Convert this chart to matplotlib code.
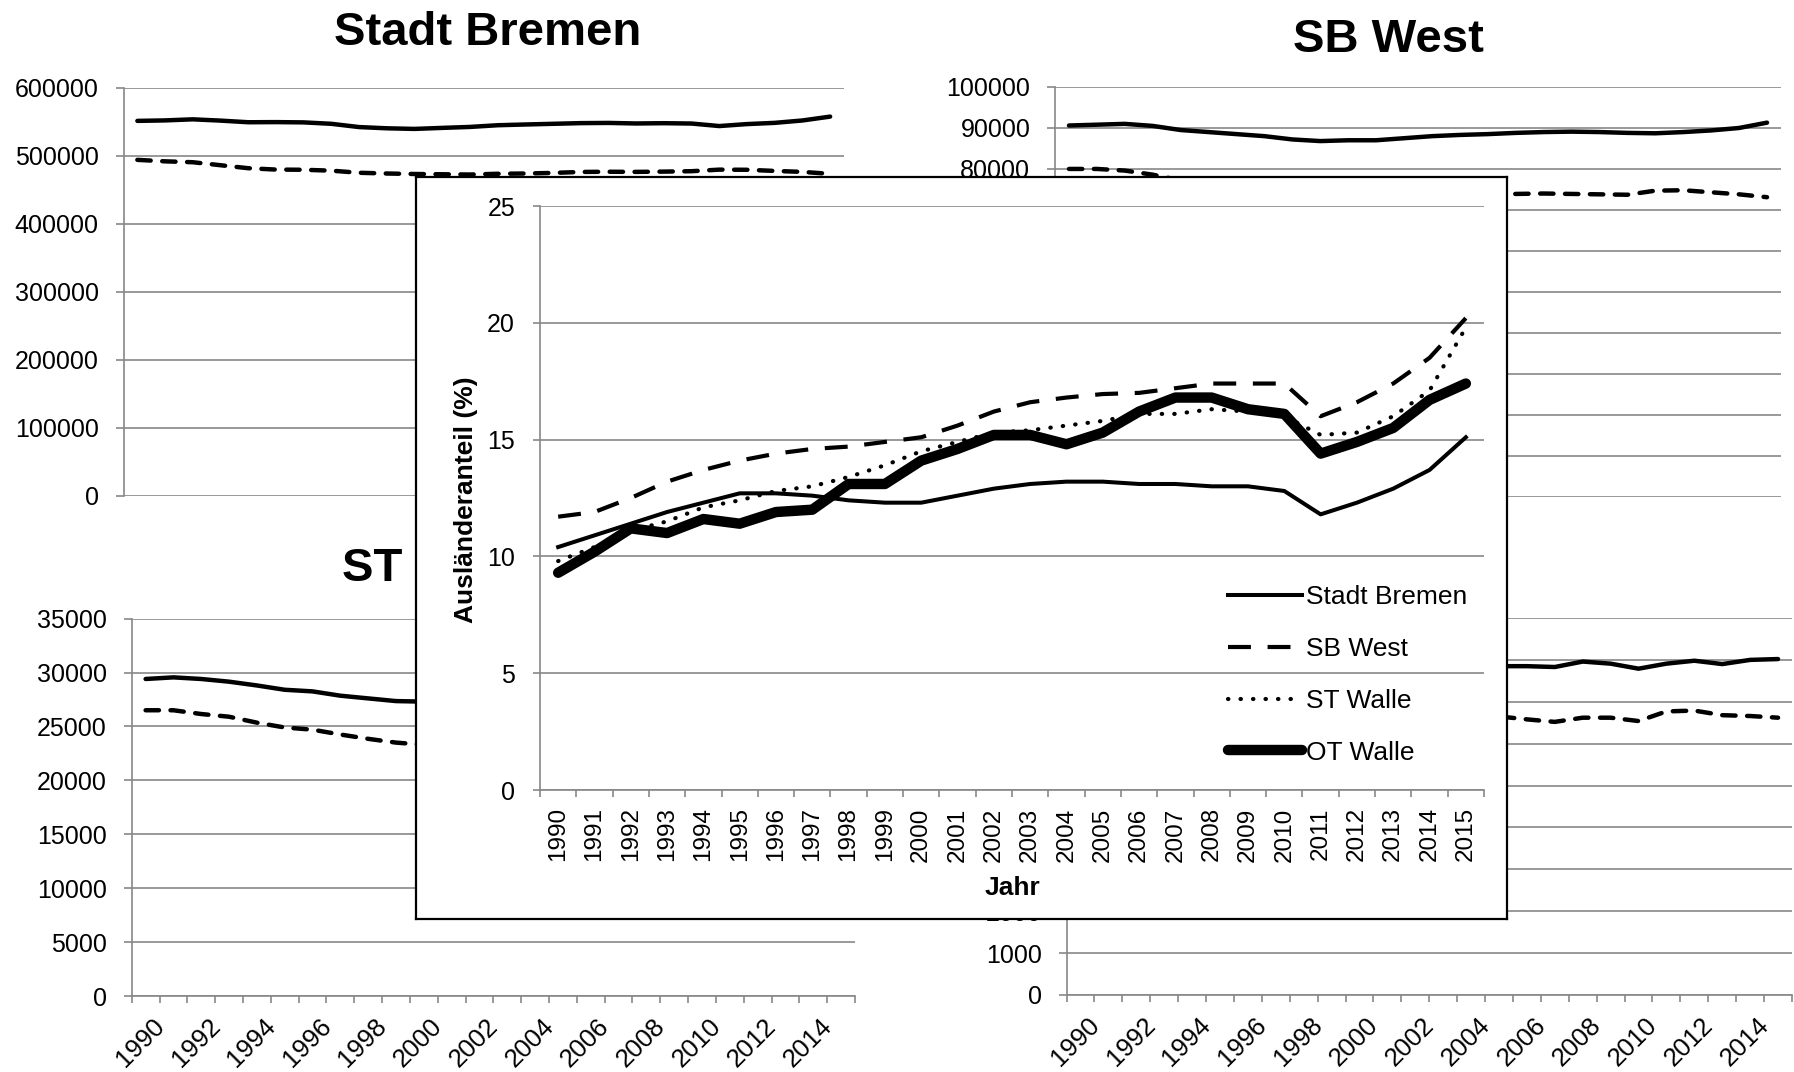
import numpy as np
import matplotlib
matplotlib.use("Agg")
import matplotlib.pyplot as plt
from matplotlib.transforms import ScaledTranslation

plt.rcParams['font.family'] = ['Liberation Sans', 'DejaVu Sans']

# ---------------- data ----------------
years = list(range(1990, 2016))

# Einwohner gesamt (solid) / Deutsche (dashed)
bremen_total = [551200, 551900, 553500, 551600, 549200, 549400, 549000, 546900, 542100, 540300,
                539400, 540900, 542300, 544800, 545900, 546900, 547900, 548200, 547400, 547800,
                547300, 543600, 546500, 548300, 551800, 557500]
bremen_german = [493900, 491700, 490400, 486000, 481600, 479600, 479300, 478000, 474900, 473800,
                 473100, 472700, 472300, 473400, 473800, 474700, 476100, 476400, 476200, 476600,
                 477200, 479500, 479300, 477600, 476200, 473300]

sbwest_total = [90600, 90800, 91000, 90500, 89500, 89000, 88500, 88000, 87200, 86800,
                87000, 87000, 87500, 88000, 88300, 88500, 88800, 89000, 89100, 89000,
                88800, 88700, 89000, 89400, 90000, 91300]
sbwest_german = [80000, 80000, 79600, 78600, 77200, 76500, 75800, 75200, 74400, 73900,
                 73900, 73400, 73300, 73400, 73500, 73700, 73900, 74000, 73900, 73800,
                 73700, 74700, 74800, 74300, 73800, 73100]

stwalle_total = [29400, 29550, 29400, 29150, 28800, 28400, 28250, 27850, 27600, 27350,
                 27300, 27250, 27150, 27050, 27000, 27050, 27100, 27150, 27200, 27300,
                 27300, 27200, 27400, 27650, 28050, 28650]
stwalle_german = [26500, 26500, 26150, 25900, 25350, 24900, 24700, 24250, 23850, 23500,
                  23300, 23150, 22950, 22850, 22800, 22750, 22750, 22750, 22750, 22850,
                  22900, 23050, 23200, 23200, 23250, 23000]

otwalle_total = [8300, 8350, 8300, 8250, 8150, 8050, 8000, 7950, 7900, 7850,
                 7850, 7850, 7850, 7850, 7830, 7850, 7850, 7830, 7960, 7910,
                 7790, 7910, 7980, 7900, 8000, 8020]
otwalle_german = [7530, 7500, 7370, 7340, 7200, 7130, 7050, 7000, 6870, 6820,
                  6740, 6700, 6660, 6660, 6670, 6650, 6580, 6520, 6620, 6620,
                  6540, 6770, 6790, 6680, 6660, 6620]

# Ausländeranteil (%)
share_labels = ['Stadt Bremen', 'SB West', 'ST Walle', 'OT Walle']
share_bremen = [10.4, 10.9, 11.4, 11.9, 12.3, 12.7, 12.7, 12.6, 12.4, 12.3,
                12.3, 12.6, 12.9, 13.1, 13.2, 13.2, 13.1, 13.1, 13.0, 13.0,
                12.8, 11.8, 12.3, 12.9, 13.7, 15.1]
share_sbwest = [11.7, 11.9, 12.5, 13.2, 13.7, 14.1, 14.4, 14.6, 14.7, 14.9,
                15.1, 15.6, 16.2, 16.6, 16.8, 16.95, 17.0, 17.2, 17.4, 17.4,
                17.4, 16.0, 16.6, 17.4, 18.5, 20.2]
share_stwalle = [9.8, 10.4, 11.1, 11.5, 12.1, 12.4, 12.8, 13.0, 13.4, 13.9,
                 14.5, 14.9, 15.3, 15.4, 15.6, 15.8, 16.1, 16.1, 16.3, 16.2,
                 16.0, 15.2, 15.3, 16.0, 17.1, 19.8]
share_otwalle = [9.3, 10.2, 11.2, 11.0, 11.6, 11.4, 11.9, 12.0, 13.1, 13.1,
                 14.1, 14.6, 15.2, 15.2, 14.8, 15.3, 16.2, 16.8, 16.8, 16.3,
                 16.1, 14.4, 14.9, 15.5, 16.7, 17.4]

# ---------------- layout helpers ----------------
W, H = 1794, 1072
fig = plt.figure(figsize=(W / 100, H / 100), dpi=100)
GRID = '#878787'


def box(l, t, r, b):
    return [l / W, 1 - b / H, (r - l) / W, (b - t) / H]


xc = np.arange(len(years)) + 0.5
shift_right = ScaledTranslation(15 / 100, 0, fig.dpi_scale_trans)


def panel(rect, total, german, ymax, ystep, show_x):
    ax = fig.add_axes(box(*rect), zorder=1)
    ax.plot(xc, total, color='black', lw=3.2, solid_capstyle='round', solid_joinstyle='round')
    ax.plot(xc, german, color='black', lw=3.2, linestyle=(0, (3.0, 2.6)),
            dash_capstyle='round', dash_joinstyle='round')
    ax.set_xlim(0, len(years))
    ax.set_ylim(0, ymax)
    ax.set_yticks(np.arange(0, ymax + 1, ystep))
    ax.yaxis.grid(True, color=GRID, lw=1.2)
    ax.set_axisbelow(True)
    for s in ['top', 'right']:
        ax.spines[s].set_visible(False)
    ax.spines['left'].set_color(GRID)
    ax.spines['left'].set_linewidth(1.2)
    ax.tick_params(axis='y', length=5.8, width=1.2, color=GRID, pad=12, labelsize=18)
    if show_x:
        ax.spines['bottom'].set_color(GRID)
        ax.spines['bottom'].set_linewidth(1.2)
        ax.set_xticks(np.arange(len(years) + 1))
        ax.set_xticklabels([])
        ax.set_xticks(xc[::2], labels=[str(y) for y in years[::2]], minor=True)
        ax.tick_params(axis='x', which='major', length=5, width=1.2, color=GRID)
        ax.tick_params(axis='x', which='minor', length=0, pad=19, labelsize=18.5)
        for lab in ax.get_xticklabels(minor=True):
            lab.set_rotation(45)
            lab.set_ha('right')
            lab.set_va('center')
            lab.set_rotation_mode('anchor')
            lab.set_transform(lab.get_transform() + shift_right)
    else:
        ax.spines['bottom'].set_visible(False)
        ax.set_xticks([])
    return ax


panel((123.5, 87.7, 844, 495.7), bremen_total, bremen_german, 600000, 100000, False)
panel((1055, 87, 1781, 496.7), sbwest_total, sbwest_german, 100000, 10000, False)
panel((131.7, 618.6, 855, 996), stwalle_total, stwalle_german, 35000, 5000, True)
panel((1066.5, 618, 1792, 995), otwalle_total, otwalle_german, 9000, 1000, True)

# panel titles (below the inset)
fig.text(488 / W, 1 - 45 / H, 'Stadt Bremen', ha='center', va='baseline',
         fontsize=34, weight='bold', zorder=2)
fig.text(1388 / W, 1 - 52 / H, 'SB West', ha='center', va='baseline',
         fontsize=34, weight='bold', zorder=2)
fig.text(341.7 / W, 1 - 581 / H, 'ST Walle', ha='left', va='baseline',
         fontsize=34, weight='bold', zorder=2)

# ---------------- inset ----------------
bg = fig.add_axes(box(415.5, 177, 1507, 919), zorder=10)
bg.set_xticks([])
bg.set_yticks([])
bg.set_facecolor('white')
for s in bg.spines.values():
    s.set_color('black')
    s.set_linewidth(1.6)

ia = fig.add_axes(box(540, 206, 1484, 790), zorder=11)
ia.patch.set_alpha(0)
ia.plot(xc, share_bremen, color='black', lw=2.9, solid_joinstyle='round', label=share_labels[0])
ia.plot(xc, share_sbwest, color='black', lw=3.0, linestyle=(0, (5.5, 4.0)),
        dash_joinstyle='round', label=share_labels[1])
ia.plot(xc, share_stwalle, color='black', lw=3.0, linestyle=(0, (0.1, 2.9)),
        dash_capstyle='round', label=share_labels[2])
ia.plot(xc, share_otwalle, color='black', lw=7.5, solid_capstyle='round',
        solid_joinstyle='round', label=share_labels[3])
ia.set_xlim(0, len(years))
ia.set_ylim(0, 25)
ia.set_yticks(np.arange(0, 26, 5))
ia.yaxis.grid(True, color=GRID, lw=1.2)
ia.set_axisbelow(True)
for s in ['top', 'right']:
    ia.spines[s].set_visible(False)
for s in ['left', 'bottom']:
    ia.spines[s].set_color(GRID)
    ia.spines[s].set_linewidth(1.2)
ia.tick_params(axis='y', length=5, width=1.2, color=GRID, pad=13, labelsize=18)
ia.set_xticks(np.arange(len(years) + 1))
ia.set_xticklabels([])
ia.set_xticks(xc, labels=[str(y) for y in years], minor=True)
ia.tick_params(axis='x', which='major', length=5, width=1.2, color=GRID, direction='out')
ia.tick_params(axis='x', which='minor', length=0, pad=12.5, labelsize=17.5)
for lab in ia.get_xticklabels(minor=True):
    lab.set_rotation(90)
    lab.set_ha('center')
    lab.set_va('top')

leg = ia.legend(loc='upper left', bbox_to_anchor=(1228 / W, 1 - 585.5 / H),
                bbox_transform=fig.transFigure, frameon=False, fontsize=19,
                borderpad=0, borderaxespad=0, handlelength=2.8, handletextpad=0.15,
                labelspacing=1.05)

fig.text(466 / W, 1 - 500 / H, 'Ausländeranteil (%)', rotation=90, ha='center', va='center',
         fontsize=19, weight='bold', zorder=12)
fig.text(1012 / W, 1 - 888 / H, 'Jahr', ha='center', va='center',
         fontsize=19, weight='bold', zorder=12)

fig.savefig('out.png', dpi=100, facecolor='white')
